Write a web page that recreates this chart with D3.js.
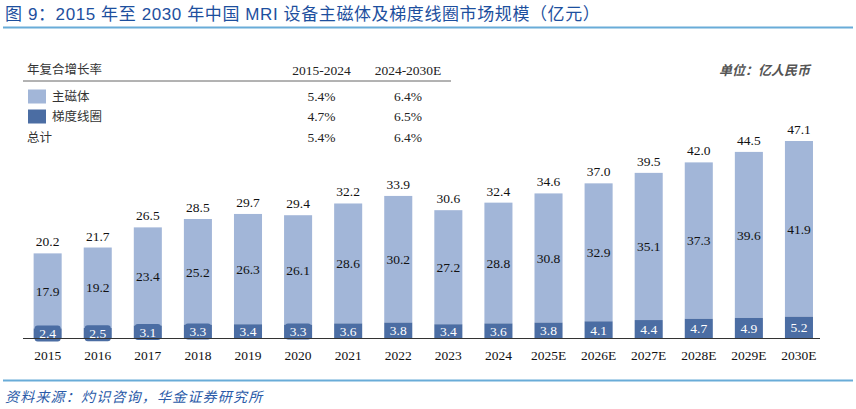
<!DOCTYPE html>
<html><head><meta charset="utf-8">
<script src="https://cdn.jsdelivr.net/npm/d3@7"></script>
<style>body{margin:0;background:#fff}svg{display:block}</style>
</head><body>
<svg id="c" width="856" height="409"></svg>
<script>
const years = ["2015","2016","2017","2018","2019","2020","2021","2022","2023","2024","2025E","2026E","2027E","2028E","2029E","2030E"];
const mainMagnet = [17.9,19.2,23.4,25.2,26.3,26.1,28.6,30.2,27.2,28.8,30.8,32.9,35.1,37.3,39.6,41.9];
const gradientCoil = [2.4,2.5,3.1,3.3,3.4,3.3,3.6,3.8,3.4,3.6,3.8,4.1,4.4,4.7,4.9,5.2];
const totals = [20.2,21.7,26.5,28.5,29.7,29.4,32.2,33.9,30.6,32.4,34.6,37.0,39.5,42.0,44.5,47.1];
const cagrHeaders = ["2015-2024","2024-2030E"];
const cagrRows = [
  {name:"主磁体", vals:["5.4%","6.4%"]},
  {name:"梯度线圈", vals:["4.7%","6.5%"]},
  {name:"总计", vals:["5.4%","6.4%"]}
];
const titleText = "图 9：2015 年至 2030 年中国 MRI 设备主磁体及梯度线圈市场规模（亿元）";
const sourceText = "资料来源：灼识咨询，华金证券研究所";

const LIGHT = "#a2b6d8", DARK = "#4b6da3";
const serif = "'Liberation Serif','Times New Roman',serif";
const cjk = "'Noto Sans CJK SC','Noto Sans',sans-serif";
const svg = d3.select("#c");

// title
svg.append("text").attr("x",5).attr("y",20).attr("font-family","'Liberation Sans','Noto Sans CJK SC',sans-serif").attr("font-size",17)
  .attr("letter-spacing",0.6).attr("fill","#1d4f9e").text(titleText);
svg.append("line").attr("x1",3).attr("x2",853).attr("y1",27.5).attr("y2",27.5)
  .attr("stroke","#69acd8").attr("stroke-width",2.2);

// scales
const x = d3.scaleBand().domain(years).range([22.6,824]).paddingInner(0.44).paddingOuter(0.22);
const y = d3.scaleLinear().domain([0,47.1]).range([338.5,141]);

// bars
const g = svg.append("g");
years.forEach((yr,i)=>{
  const bx = x(yr), bw = x.bandwidth();
  const g0 = gradientCoil[i], m = mainMagnet[i];
  g.append("rect").attr("x",bx).attr("width",bw).attr("y",y(g0+m)).attr("height",y(g0)-y(g0+m)).attr("fill",LIGHT);
  g.append("rect").attr("x",bx).attr("width",bw).attr("y",y(g0)).attr("height",y(0)-y(g0)).attr("fill",DARK);
  const cx = bx+bw/2;
  g.append("text").attr("x",cx).attr("y",y(g0+m)-7).attr("text-anchor","middle")
    .attr("font-family",serif).attr("font-size",13.5).attr("fill","#111").text(totals[i].toFixed(1));
  g.append("text").attr("x",cx).attr("y",(y(g0)+y(g0+m))/2).attr("dy","0.35em").attr("text-anchor","middle")
    .attr("font-family",serif).attr("font-size",13.5).attr("fill","#111").text(m.toFixed(1));
  const gy = (y(0)+y(g0))/2;
  if (y(0)-y(g0) < 14) {
    g.append("rect").attr("x",cx-13).attr("y",gy-8).attr("width",26).attr("height",16)
      .attr("rx",3).attr("fill",DARK);
  }
  g.append("text").attr("x",cx).attr("y",gy).attr("dy","0.35em").attr("text-anchor","middle")
    .attr("font-family",serif).attr("font-size",13.5).attr("fill","#fff").text(g0.toFixed(1));
});

// axis
const ax = svg.append("g").attr("transform","translate(0,338.5)")
  .call(d3.axisBottom(x).tickSize(0).tickPadding(12));
ax.select(".domain").attr("d","M23,0H820").attr("stroke","#333").attr("stroke-width",1.2);
ax.selectAll("text").attr("font-family",serif).attr("font-size",13.5).attr("fill","#111");

// CAGR table
const t = svg.append("g");
t.append("text").attr("x",27).attr("y",70).attr("dy","0.35em").attr("font-family",cjk).attr("font-size",12.5).attr("fill","#333").text("年复合增长率");
const colX = [321.5,408];
cagrHeaders.forEach((h,j)=>t.append("text").attr("x",colX[j]).attr("y",70).attr("dy","0.35em")
  .attr("text-anchor","middle").attr("font-family",serif).attr("font-size",13.5).attr("fill","#222").text(h));
t.append("line").attr("x1",23).attr("x2",451).attr("y1",81).attr("y2",81).attr("stroke","#666").attr("stroke-width",1);
const rowY = [96.5,116.5,137.5];
const swatch = [LIGHT,DARK,null];
cagrRows.forEach((r,k)=>{
  if (swatch[k]) {
    t.append("rect").attr("x",28).attr("y",rowY[k]-7).attr("width",18).attr("height",14).attr("fill",swatch[k]);
    t.append("text").attr("x",52).attr("y",rowY[k]).attr("dy","0.35em").attr("font-family",cjk).attr("font-size",12.5).attr("fill","#333").text(r.name);
  } else {
    t.append("text").attr("x",27).attr("y",rowY[k]).attr("dy","0.35em").attr("font-family",cjk).attr("font-size",12.5).attr("fill","#333").text(r.name);
  }
  r.vals.forEach((v,j)=>t.append("text").attr("x",colX[j]).attr("y",rowY[k]).attr("dy","0.35em")
    .attr("text-anchor","middle").attr("font-family",serif).attr("font-size",13.5).attr("fill","#222").text(v));
});

// unit
svg.append("text").attr("x",810).attr("y",70).attr("dy","0.35em").attr("text-anchor","end")
  .attr("font-family",cjk).attr("font-size",13).attr("font-style","italic").attr("font-weight","bold").attr("fill","#555").text("单位：亿人民币");

// footer
svg.append("line").attr("x1",3).attr("x2",853).attr("y1",380.5).attr("y2",380.5)
  .attr("stroke","#69acd8").attr("stroke-width",2.2);
svg.append("text").attr("x",5).attr("y",397).attr("dy","0.35em").attr("font-family",cjk).attr("font-size",14)
  .attr("letter-spacing",1.2).attr("font-style","italic").attr("fill","#2a5aa8").text(sourceText);
</script>
</body></html>
